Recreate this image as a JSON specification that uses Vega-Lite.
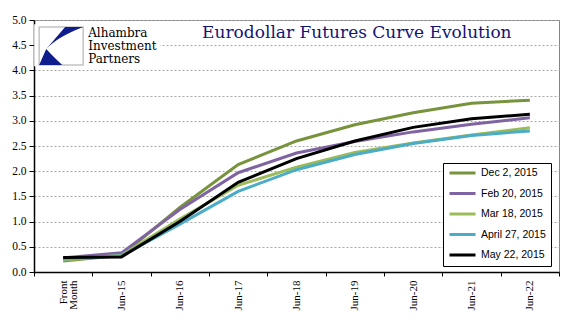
{
  "$schema": "https://vega.github.io/schema/vega-lite/v6.json",
  "width": 525,
  "height": 252,
  "autosize": {"type": "none"},
  "padding": {"left": 34, "top": 20, "right": 29, "bottom": 49},
  "background": "white",
  "config": {
    "view": {"stroke": "#868686", "strokeWidth": 1},
    "axis": {"domainColor": "black", "tickColor": "black", "labelFont": "Liberation Serif", "labelColor": "black", "titleFont": "Liberation Serif", "labelOverlap": false},
    "legend": {
      "orient": "none", "legendX": 409, "legendY": 143,
      "symbolType": "stroke", "symbolSize": 676, "symbolStrokeWidth": 3,
      "labelFont": "Liberation Sans", "labelFontSize": 10.5, "labelColor": "black",
      "strokeColor": "black", "fillColor": "white", "padding": 5,
      "clipHeight": 10, "rowPadding": 9.5, "labelOffset": 4
    }
  },
  "datasets": {
    "curves": [
      {"contract": "Front Month", "date": "Dec 2, 2015", "rate": 0.22},
      {"contract": "Jun-15", "date": "Dec 2, 2015", "rate": 0.33},
      {"contract": "Jun-16", "date": "Dec 2, 2015", "rate": 1.28},
      {"contract": "Jun-17", "date": "Dec 2, 2015", "rate": 2.13},
      {"contract": "Jun-18", "date": "Dec 2, 2015", "rate": 2.6},
      {"contract": "Jun-19", "date": "Dec 2, 2015", "rate": 2.92},
      {"contract": "Jun-20", "date": "Dec 2, 2015", "rate": 3.16},
      {"contract": "Jun-21", "date": "Dec 2, 2015", "rate": 3.35},
      {"contract": "Jun-22", "date": "Dec 2, 2015", "rate": 3.41},
      {"contract": "Front Month", "date": "Feb 20, 2015", "rate": 0.28},
      {"contract": "Jun-15", "date": "Feb 20, 2015", "rate": 0.38},
      {"contract": "Jun-16", "date": "Feb 20, 2015", "rate": 1.24},
      {"contract": "Jun-17", "date": "Feb 20, 2015", "rate": 1.97},
      {"contract": "Jun-18", "date": "Feb 20, 2015", "rate": 2.36},
      {"contract": "Jun-19", "date": "Feb 20, 2015", "rate": 2.59},
      {"contract": "Jun-20", "date": "Feb 20, 2015", "rate": 2.78},
      {"contract": "Jun-21", "date": "Feb 20, 2015", "rate": 2.93},
      {"contract": "Jun-22", "date": "Feb 20, 2015", "rate": 3.06},
      {"contract": "Front Month", "date": "Mar 18, 2015", "rate": 0.24},
      {"contract": "Jun-15", "date": "Mar 18, 2015", "rate": 0.33},
      {"contract": "Jun-16", "date": "Mar 18, 2015", "rate": 1.05},
      {"contract": "Jun-17", "date": "Mar 18, 2015", "rate": 1.72},
      {"contract": "Jun-18", "date": "Mar 18, 2015", "rate": 2.08},
      {"contract": "Jun-19", "date": "Mar 18, 2015", "rate": 2.37},
      {"contract": "Jun-20", "date": "Mar 18, 2015", "rate": 2.56},
      {"contract": "Jun-21", "date": "Mar 18, 2015", "rate": 2.72},
      {"contract": "Jun-22", "date": "Mar 18, 2015", "rate": 2.86},
      {"contract": "Front Month", "date": "April 27, 2015", "rate": 0.26},
      {"contract": "Jun-15", "date": "April 27, 2015", "rate": 0.32},
      {"contract": "Jun-16", "date": "April 27, 2015", "rate": 0.95},
      {"contract": "Jun-17", "date": "April 27, 2015", "rate": 1.6},
      {"contract": "Jun-18", "date": "April 27, 2015", "rate": 2.03},
      {"contract": "Jun-19", "date": "April 27, 2015", "rate": 2.33},
      {"contract": "Jun-20", "date": "April 27, 2015", "rate": 2.55},
      {"contract": "Jun-21", "date": "April 27, 2015", "rate": 2.71},
      {"contract": "Jun-22", "date": "April 27, 2015", "rate": 2.8},
      {"contract": "Front Month", "date": "May 22, 2015", "rate": 0.29},
      {"contract": "Jun-15", "date": "May 22, 2015", "rate": 0.3},
      {"contract": "Jun-16", "date": "May 22, 2015", "rate": 1.0},
      {"contract": "Jun-17", "date": "May 22, 2015", "rate": 1.78},
      {"contract": "Jun-18", "date": "May 22, 2015", "rate": 2.25},
      {"contract": "Jun-19", "date": "May 22, 2015", "rate": 2.6},
      {"contract": "Jun-20", "date": "May 22, 2015", "rate": 2.87},
      {"contract": "Jun-21", "date": "May 22, 2015", "rate": 3.04},
      {"contract": "Jun-22", "date": "May 22, 2015", "rate": 3.13}
    ],
    "title": [{"text": "Eurodollar Futures Curve Evolution"}],
    "brand": [{"text": ["Alhambra", "Investment", "Partners"]}]
  },
  "layer": [
    {
      "data": {"name": "brand"},
      "mark": {"type": "point", "shape": "M-1,-0.333H1V0.333H-1Z", "size": 15876, "filled": true, "color": "white", "opacity": 1, "xOffset": 34},
      "encoding": {
        "x": {"datum": "Front Month", "type": "nominal", "bandPosition": 0.5},
        "y": {"datum": 4.5, "type": "quantitative"}
      }
    },
    {
      "data": {"name": "curves"},
      "mark": {"type": "line", "strokeWidth": 3},
      "encoding": {
        "x": {
          "field": "contract", "type": "nominal", "bandPosition": 0.5, "title": null,
          "scale": {"type": "band", "paddingInner": 0, "paddingOuter": 0,
            "domain": ["Front Month", "Jun-15", "Jun-16", "Jun-17", "Jun-18", "Jun-19", "Jun-20", "Jun-21", "Jun-22"]},
          "axis": {
            "labelAngle": -90, "tickBand": "extent", "labelFontSize": 11, "tickSize": 4, "labelPadding": 4, "domainWidth": 1.5, "grid": false,
            "labelExpr": "datum.value == 'Front Month' ? ['Front', 'Month'] : datum.value",
            "labelLineHeight": 10
          }
        },
        "y": {
          "field": "rate", "type": "quantitative", "title": null,
          "scale": {"domain": [0, 5], "nice": false, "zero": true},
          "axis": {"tickCount": 30, "values": [0, 0.5, 1, 1.5, 2, 2.5, 3, 3.5, 4, 4.5, 5], "format": ".1f",
            "labelFontSize": 11.5, "tickSize": 5, "labelPadding": 3, "domainWidth": 1.5, "labelFlush": false,
            "grid": true, "gridColor": "#a8a8a8", "gridDash": [2, 2], "gridWidth": 1}
        },
        "color": {
          "field": "date", "type": "nominal", "title": null,
          "scale": {
            "domain": ["Dec 2, 2015", "Feb 20, 2015", "Mar 18, 2015", "April 27, 2015", "May 22, 2015"],
            "range": ["#77933C", "#8064A2", "#9BBB59", "#4BACC6", "#000000"]
          }
        }
      }
    },
    {
      "data": {"name": "brand"},
      "mark": {"type": "point", "shape": "M-1,-0.864H1V0.864H-1Z", "size": 1936, "filled": false, "color": "#c4c4c4", "strokeWidth": 1.5, "opacity": 1, "xOffset": -2},
      "encoding": {
        "x": {"datum": "Front Month", "type": "nominal", "bandPosition": 0.5},
        "y": {"datum": 4.486, "type": "quantitative"}
      }
    },
    {
      "data": {"name": "brand"},
      "mark": {"type": "point", "shape": "M0.18,-0.864L1,-0.864Q-0.2,-0.4,-0.68,0.14ZM-0.68,0.14Q-0.25,0.6,0.05,0.864L-1,0.864Z", "size": 1936, "filled": true, "color": "#0F1E8C", "opacity": 1, "xOffset": -2},
      "encoding": {
        "x": {"datum": "Front Month", "type": "nominal", "bandPosition": 0.5},
        "y": {"datum": 4.486, "type": "quantitative"}
      }
    },
    {
      "data": {"name": "brand"},
      "mark": {"type": "text", "font": "DejaVu Serif", "fontSize": 12, "lineHeight": 13, "align": "left", "baseline": "alphabetic", "color": "black", "dx": 25},
      "encoding": {
        "x": {"datum": "Front Month", "type": "nominal", "bandPosition": 0.5},
        "y": {"datum": 4.67, "type": "quantitative"},
        "text": {"field": "text"}
      }
    },
    {
      "data": {"name": "title"},
      "mark": {"type": "text", "font": "DejaVu Serif", "fontSize": 17, "align": "center", "baseline": "alphabetic", "color": "#141472", "dx": 2},
      "encoding": {
        "x": {"datum": "Jun-19", "type": "nominal", "bandPosition": 0.5},
        "y": {"datum": 4.64, "type": "quantitative"},
        "text": {"field": "text"}
      }
    }
  ]
}
